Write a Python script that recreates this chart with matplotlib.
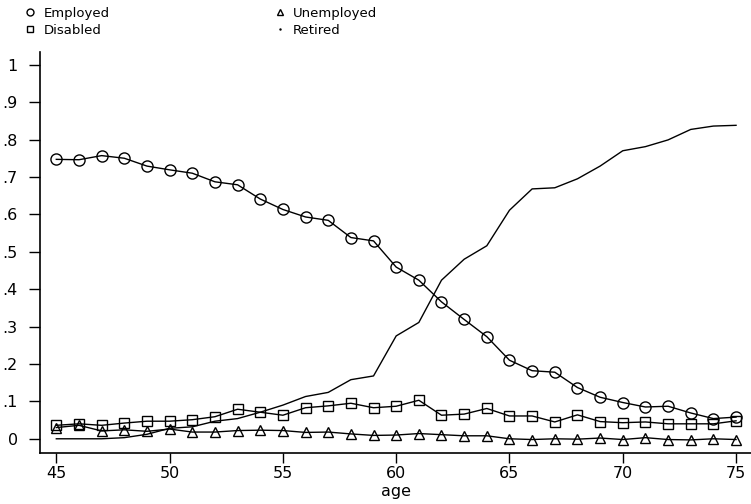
import numpy as np
import matplotlib.pyplot as plt
from matplotlib.lines import Line2D

age = np.arange(45, 76)

employed = [0.747, 0.746, 0.757, 0.750, 0.729, 0.719, 0.710, 0.687, 0.679, 0.641,
            0.613, 0.593, 0.584, 0.538, 0.529, 0.459, 0.424, 0.366, 0.319, 0.273,
            0.210, 0.182, 0.178, 0.137, 0.111, 0.097, 0.085, 0.087, 0.069, 0.054,
            0.058]
disabled = [0.036, 0.040, 0.036, 0.042, 0.047, 0.047, 0.051, 0.059, 0.079, 0.071,
            0.063, 0.083, 0.088, 0.095, 0.083, 0.087, 0.103, 0.063, 0.066, 0.081,
            0.061, 0.061, 0.045, 0.064, 0.046, 0.043, 0.045, 0.040, 0.040, 0.040,
            0.048]
unemployed = [0.030, 0.036, 0.021, 0.024, 0.020, 0.026, 0.018, 0.018, 0.022, 0.023,
              0.022, 0.017, 0.018, 0.013, 0.009, 0.010, 0.014, 0.011, 0.008, 0.008,
              0.000, -0.002, 0.000, -0.001, 0.002, -0.002, 0.003, -0.002, -0.003, 0.000,
              -0.002]
retired = [0.000, 0.000, 0.000, 0.003, 0.012, 0.028, 0.032, 0.047, 0.054, 0.071,
           0.090, 0.113, 0.124, 0.158, 0.168, 0.275, 0.311, 0.424, 0.480, 0.516,
           0.611, 0.668, 0.671, 0.695, 0.729, 0.770, 0.781, 0.799, 0.827, 0.836,
           0.838]

yticks = [0, .1, .2, .3, .4, .5, .6, .7, .8, .9, 1]
ytick_labels = ["0", ".1", ".2", ".3", ".4", ".5", ".6", ".7", ".8", ".9", "1"]
xticks = [45, 50, 55, 60, 65, 70, 75]

plt.rcParams["font.family"] = ["DejaVu Sans"]
plt.rcParams["font.size"] = 11.5

fig = plt.figure(figsize=(7.51, 5.04), dpi=100)
ax = fig.add_axes([40 / 751, 51 / 504, 711 / 751, 401 / 504])

lw = 1.0
ax.plot(age, employed, color="black", lw=lw, marker="o", ms=8,
        mfc="none", mec="black", mew=1.0)
ax.plot(age, disabled, color="black", lw=lw, marker="s", ms=7.5,
        mfc="none", mec="black", mew=1.0)
ax.plot(age, unemployed, color="black", lw=lw, marker="^", ms=7.5,
        mfc="none", mec="black", mew=1.0)
ax.plot(age, retired, color="black", lw=lw)

ax.set_xlim(44.28, 75.66)
ax.set_ylim(-0.038, 1.034)
ax.set_xticks(xticks)
ax.set_yticks(yticks)
ax.set_yticklabels(ytick_labels)
ax.tick_params(axis="y", direction="out", length=8, width=1, pad=8)
ax.tick_params(axis="x", direction="out", length=7.5, width=1, pad=2)
for s in ["top", "right"]:
    ax.spines[s].set_visible(False)
for s in ["left", "bottom"]:
    ax.spines[s].set_linewidth(1.2)
ax.set_xlabel("age", labelpad=2)

# legend sits above the plot, two columns
handles = [
    Line2D([], [], ls="none", marker="o", ms=5, mfc="none", mec="black"),
    Line2D([], [], ls="none", marker="s", ms=5, mfc="none", mec="black"),
    Line2D([], [], ls="none", marker="^", ms=5, mfc="none", mec="black"),
    Line2D([], [], ls="none", marker=".", ms=1.5, color="black"),
]
labels = ["Employed", "Disabled", "Unemployed", "Retired"]
fig.legend(handles, labels, ncol=2, loc="upper left", bbox_to_anchor=(0.026, 0.997),
           frameon=False, fontsize=9.5, handlelength=0.8, handletextpad=0.6,
           columnspacing=12.5, labelspacing=0.3, borderaxespad=0)

fig.savefig("out.png", dpi=100)
